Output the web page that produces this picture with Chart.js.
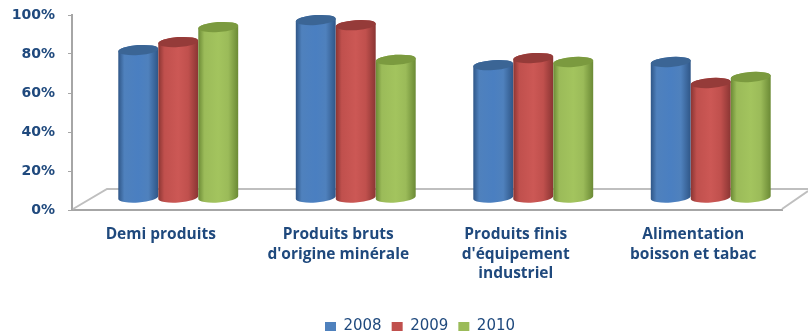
<!DOCTYPE html>
<html>
<head>
<meta charset="utf-8">
<script src="https://cdn.jsdelivr.net/npm/chart.js@4/dist/chart.umd.min.js"></script>
<style>
  html, body { margin: 0; padding: 0; background: #fff; }
  canvas { display: block; }
</style>
</head>
<body>
<canvas id="grafica" width="808" height="335"></canvas>
<script>
const categorias = [
    'Demi produits',
    ["Produits bruts", "d'origine minérale"],
    ['Produits finis', "d'équipement", 'industriel'],
    ['Alimentation', 'boisson et tabac']
];
const valores2008 = [82, 97.4, 74.3, 75.9];
const valores2009 = [86.1, 94.8, 77.9, 65.1];
const valores2010 = [93.8, 77, 75.9, 68.2];
const ticksY = [0, 20, 40, 60, 80, 100];

const azul = '#1F497D';
const gris = '#a6a6a6';
// oscuro, medio, claro, tapa
const tonos = [
    ['#2f5687', '#4f81bd', '#4a7fc1', '#3b6595'],
    ['#8a3533', '#c0504d', '#cc5855', '#953b39'],
    ['#6b8a35', '#9bbb59', '#a3c45e', '#7b9a3f']
];

// suelo en perspectiva, detras de las barras
const suelo = {
    id: 'suelo',
    afterLayout(chart) {
        // la leyenda va un poco a la derecha del centro
        chart.legend.left += 58;
    },
    beforeDatasetsDraw(chart) {
        const { ctx, chartArea } = chart;
        const { left, right, bottom } = chartArea;
        ctx.save();
        ctx.strokeStyle = '#bfbfbf';
        ctx.lineWidth = 2;
        ctx.beginPath();
        ctx.moveTo(left + 1, bottom - 1);
        ctx.lineTo(left + 35, bottom - 21);
        ctx.lineTo(808, bottom - 21);
        ctx.moveTo(right, bottom - 1);
        ctx.lineTo(808, bottom - 19);
        ctx.stroke();
        ctx.restore();
    }
};

// dibuja cada barra como un cilindro a partir de los elementos de Chart.js
const cilindros = {
    id: 'cilindros',
    afterDatasetsDraw(chart) {
        const { ctx } = chart;
        const giro = -0.07;
        const ry = 5;
        chart.data.datasets.forEach((ds, i) => {
            const t = tonos[i];
            chart.getDatasetMeta(i).data.forEach(bar => {
                const cx = bar.x + 17.5;
                const rx = bar.width / 2;
                const arriba = bar.y;
                const abajo = bar.base - 12;
                const g = ctx.createLinearGradient(cx - rx, 0, cx + rx, 0);
                g.addColorStop(0, t[0]);
                g.addColorStop(0.15, t[1]);
                g.addColorStop(0.5, t[2]);
                g.addColorStop(0.75, t[1]);
                g.addColorStop(1, t[0]);
                ctx.save();
                ctx.fillStyle = g;
                ctx.beginPath();
                ctx.ellipse(cx, abajo, rx, ry, giro, Math.PI, 0, true);
                ctx.ellipse(cx, arriba, rx, ry, giro, 0, Math.PI, true);
                ctx.closePath();
                ctx.fill();
                ctx.fillStyle = t[3];
                ctx.beginPath();
                ctx.ellipse(cx, arriba, rx, ry, giro, 0, Math.PI * 2);
                ctx.fill();
                ctx.restore();
            });
        });
    }
};

new Chart(document.getElementById('grafica'), {
    type: 'bar',
    data: {
        labels: categorias,
        datasets: [
            { label: '2008', data: valores2008, backgroundColor: 'rgba(0,0,0,0)', hoverBackgroundColor: 'rgba(0,0,0,0)' },
            { label: '2009', data: valores2009, backgroundColor: 'rgba(0,0,0,0)', hoverBackgroundColor: 'rgba(0,0,0,0)' },
            { label: '2010', data: valores2010, backgroundColor: 'rgba(0,0,0,0)', hoverBackgroundColor: 'rgba(0,0,0,0)' }
        ]
    },
    plugins: [suelo, cilindros],
    options: {
        responsive: false,
        animation: false,
        categoryPercentage: 0.676,
        barPercentage: 1,
        layout: { padding: { left: 0, right: 26, top: 15, bottom: -9 } },
        plugins: {
            tooltip: { enabled: false },
            legend: {
                position: 'bottom',
                labels: {
                    boxWidth: 11,
                    boxHeight: 9,
                    padding: 10,
                    color: azul,
                    font: { family: '"DejaVu Sans"', size: 15 },
                    generateLabels: chart => chart.data.datasets.map((ds, i) => ({
                        text: ds.label,
                        fillStyle: tonos[i][1],
                        strokeStyle: tonos[i][1],
                        lineWidth: 0,
                        fontColor: azul,
                        datasetIndex: i
                    }))
                }
            }
        },
        scales: {
            x: {
                grid: { display: false },
                border: { color: gris, width: 2 },
                afterFit(scale) { scale.height = 99; },
                ticks: {
                    color: azul,
                    maxRotation: 0,
                    autoSkip: false,
                    padding: 7,
                    font: { family: '"Open Sans"', size: 15.5, weight: 'bold', lineHeight: 1.26 }
                }
            },
            y: {
                min: 0,
                max: 100,
                afterFit(scale) {
                    scale.width = 72;
                    scale.paddingTop = 0;
                    scale.paddingBottom = 0;
                },
                afterBuildTicks(scale) { scale.ticks = ticksY.map(v => ({ value: v })); },
                grid: { drawOnChartArea: false, color: gris, tickLength: 4 },
                border: { color: gris, width: 2 },
                ticks: {
                    color: azul,
                    padding: 13,
                    callback: v => v + '%',
                    font: { family: '"DejaVu Sans"', size: 14, weight: 'bold' }
                }
            }
        }
    }
});
</script>
</body>
</html>
